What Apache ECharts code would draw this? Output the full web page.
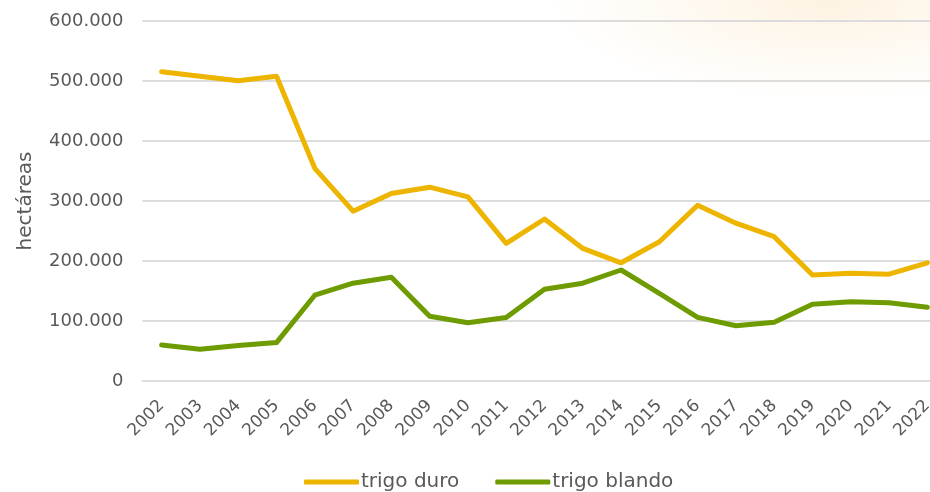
<!DOCTYPE html>
<html>
<head>
<meta charset="utf-8">
<script src="https://cdn.jsdelivr.net/npm/echarts@6/dist/echarts.min.js"></script>
<style>
  html, body { margin: 0; padding: 0; background: #fff; }
  #chart {
    width: 930px; height: 492px;
    background:
      radial-gradient(ellipse 280px 100px at 830px 0px, rgba(250, 215, 160, 0.3), rgba(255, 255, 255, 0) 100%),
      #fff;
  }
</style>
</head>
<body>
<div id="chart"></div>
<script>
const years = ['2002', '2003', '2004', '2005', '2006', '2007', '2008', '2009', '2010', '2011', '2012',
  '2013', '2014', '2015', '2016', '2017', '2018', '2019', '2020', '2021', '2022'];
// hectáreas
const trigoDuro = [515500, 508000, 500500, 508000, 354500, 283000, 312500, 323000, 307000, 229500, 270000,
  221000, 197000, 232000, 293000, 263000, 240500, 176500, 179500, 178000, 197000];
const trigoBlando = [60000, 53000, 59000, 64000, 143000, 163000, 173000, 108000, 97000, 106000, 153000,
  163000, 185000, 146000, 106000, 92000, 98000, 128000, 132000, 130500, 123000];

const txt = '#595959';
const font = 'DejaVu Sans';

const chart = echarts.init(document.getElementById('chart'));
const option = {
  animation: false,
  color: ['#EDB400', '#6E9B00'],
  grid: {
    left: 142.5,
    width: 804,
    top: 21,
    bottom: 111,
    containLabel: false,
    outerBoundsMode: 'none'
  },
  legend: {
    left: 299,
    top: 467,
    icon: 'roundRect',
    itemWidth: 55,
    itemHeight: 5,
    itemGap: 36,
    textStyle: { color: txt, fontFamily: font, fontSize: 20, padding: [0, 0, 0, -3] },
    data: ['trigo duro', 'trigo blando']
  },
  xAxis: {
    type: 'category',
    data: years,
    axisLine: { lineStyle: { color: '#dcdcdc', width: 2 } },
    axisTick: { show: false },
    axisLabel: {
      rotate: 45,
      margin: 22,
      color: txt,
      fontFamily: font,
      fontSize: 17
    }
  },
  yAxis: {
    type: 'value',
    min: 0,
    max: 600000,
    interval: 100000,
    name: 'hectáreas',
    nameLocation: 'middle',
    nameGap: 107,
    nameTextStyle: { color: txt, fontFamily: font, fontSize: 20 },
    axisLine: { show: false },
    axisTick: { show: false },
    splitLine: { lineStyle: { color: '#dcdcdc', width: 2 } },
    axisLabel: {
      margin: 19,
      color: txt,
      fontFamily: font,
      fontSize: 18,
      formatter: v => v === 0 ? '0' : v.toLocaleString('de-DE')
    }
  },
  series: [
    {
      name: 'trigo duro',
      type: 'line',
      data: trigoDuro,
      symbol: 'none',
      lineStyle: { width: 5, cap: 'round', join: 'round' }
    },
    {
      name: 'trigo blando',
      type: 'line',
      data: trigoBlando,
      symbol: 'none',
      lineStyle: { width: 5, cap: 'round', join: 'round' }
    }
  ]
};
chart.setOption(option);
</script>
</body>
</html>
